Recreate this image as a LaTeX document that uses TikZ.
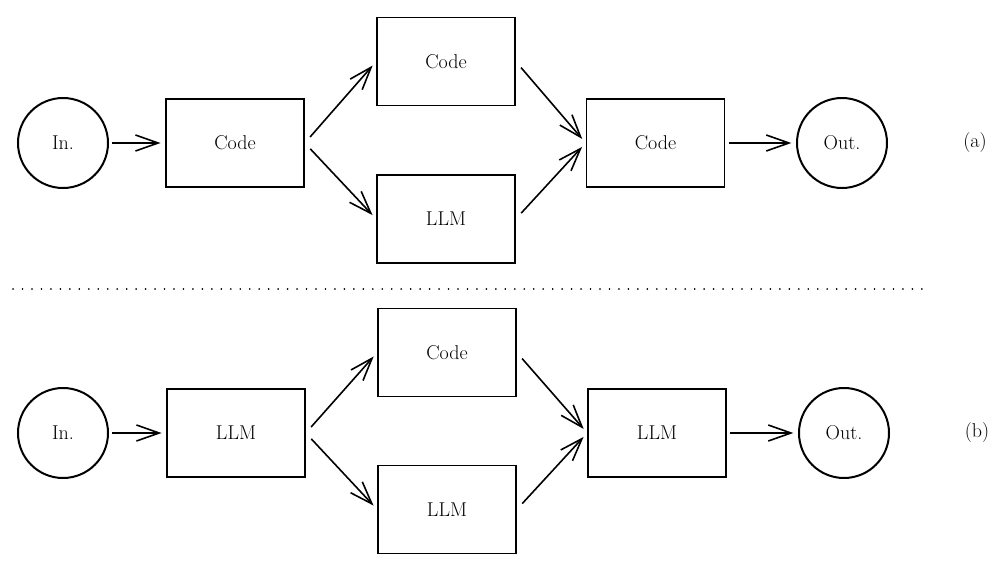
\documentclass[tikz,border=0pt]{standalone}
\usetikzlibrary{arrows.meta}

\begin{document}
\begin{tikzpicture}[x=0.75pt,y=0.75pt,yscale=-1,xscale=1,
  every node/.style={font=\fontsize{15}{17}\selectfont},
  block/.style={draw, line width=1.2pt, minimum width=103.5pt, minimum height=66pt, inner sep=0pt},
  port/.style={draw, circle, line width=1.5pt, minimum size=67.5pt, inner sep=0pt},
  flow/.style={line width=1.2pt, -{Straight Barb[length=17pt,width=12pt,line width=1.2pt]}, shorten <=2.5pt, shorten >=3.5pt},
  fork/.style={flow, shorten <=6pt, shorten >=4pt}]
\useasboundingbox (0,0) rectangle (1004,564);

% (a)
%Shape: Circle
\node [port] (inA) at (63,143) {In.};
%Shape: Rectangle
\node [block] (firstA) at (235,143) {Code};
\node [block] (upA) at (446,61.5) {Code};
\node [block] (downA) at (446,219) {LLM};
\node [block] (lastA) at (655.5,143) {Code};
%Shape: Circle
\node [port] (outA) at (842,143) {Out.};
% Text Node
\node (tagA) at (975,143) {(a)};
%Straight Lines
\draw [flow] (inA) -- (firstA);
\draw [fork] (firstA.east) -- (upA.west);
\draw [fork] (firstA.east) -- (downA.west);
\draw [fork] (upA.east) -- (lastA.west);
\draw [fork] (downA.east) -- (lastA.west);
\draw [flow, line width=1.6pt] (lastA) -- (outA);

%Straight Lines
\coordinate (sepL) at (13,289);
\coordinate (sepR) at (930,289);
\draw [line width=1.2pt, line cap=round, dash pattern={on 0.1pt off 7pt}] (sepL) -- (sepR);

% (b)
%Shape: Circle
\node [port] (inB) at (63,433) {In.};
%Shape: Rectangle
\node [block] (firstB) at (236,433) {LLM};
\node [block] (upB) at (447,352.5) {Code};
\node [block] (downB) at (447,509.5) {LLM};
\node [block] (lastB) at (657,433) {LLM};
%Shape: Circle
\node [port] (outB) at (844,433) {Out.};
% Text Node
\node (tagB) at (977,433) {(b)};
%Straight Lines
\draw [flow] (inB) -- (firstB);
\draw [fork] (firstB.east) -- (upB.west);
\draw [fork] (firstB.east) -- (downB.west);
\draw [fork] (upB.east) -- (lastB.west);
\draw [fork] (downB.east) -- (lastB.west);
\draw [flow, line width=1.6pt] (lastB) -- (outB);

\end{tikzpicture}
\end{document}
